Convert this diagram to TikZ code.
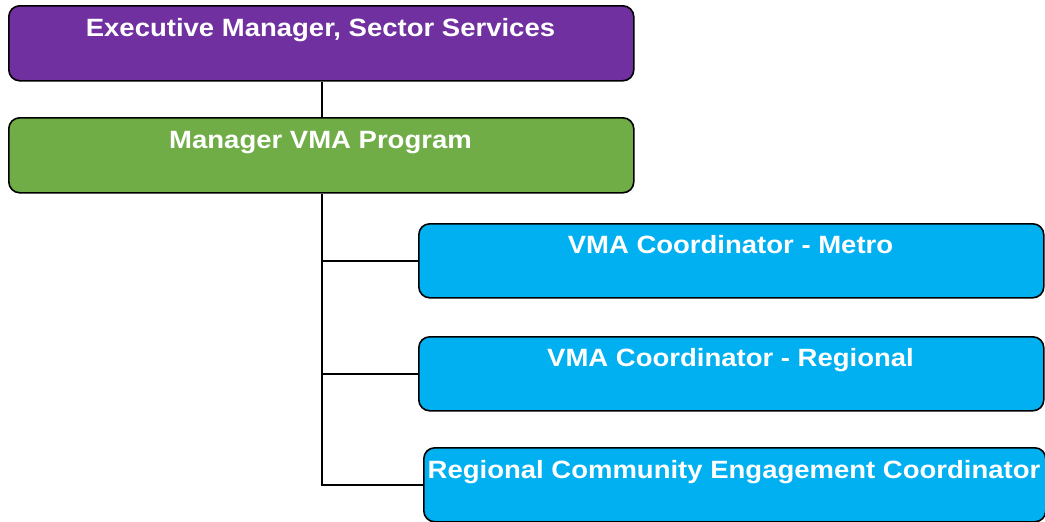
\documentclass[tikz,border=0pt]{standalone}
\usepackage{fontspec}
\setmainfont{Liberation Sans}
\newfontfamily\boxfont[FakeStretch=1.1]{Liberation Sans}
\usetikzlibrary{positioning}
\definecolor{execpurple}{HTML}{7030A0}
\definecolor{mgrgreen}{HTML}{70AD47}
\definecolor{coordblue}{HTML}{00B0F0}
\begin{document}
\begin{tikzpicture}[x=1pt,y=-1pt,
  orgbox/.style={draw=black, line width=1.6pt, rounded corners=11pt, inner sep=0pt, anchor=north west},
  orgtext/.style={text=white, font=\boxfont\bfseries\fontsize{25}{29}\selectfont, anchor=base, inner sep=0pt},
  link/.style={draw=black, line width=2pt}]
\useasboundingbox (0,0) rectangle (1045,522);
% boxes
\node[orgbox, fill=execpurple, minimum width=625pt, minimum height=75pt] (exec) at (8,5) {};
\node[orgbox, fill=mgrgreen, minimum width=625pt, minimum height=75pt] (mgr) at (8,117) {};
\node[orgbox, fill=coordblue, minimum width=625pt, minimum height=74pt] (metro) at (418,223) {};
\node[orgbox, fill=coordblue, minimum width=625pt, minimum height=74pt] (regional) at (418,336) {};
\node[orgbox, fill=coordblue, minimum width=622pt, minimum height=74pt] (rce) at (423,447) {};
% titles
\node[orgtext] (execT) at (320.5,36) {Executive Manager, Sector Services};
\node[orgtext] (mgrT) at (320.5,148) {Manager VMA Program};
\node[orgtext] (metroT) at (730.5,253) {VMA Coordinator - Metro};
\node[orgtext] (regionalT) at (730.5,366) {VMA Coordinator - Regional};
\node[orgtext] (rceT) at (734,478) {Regional Community Engagement Coordinator};
% connectors
\coordinate (trunk) at (321.5,0);
\draw[link] (exec.south -| trunk) -- (mgr.north -| trunk);
\draw[link] (mgr.south -| trunk) |- (metro.west);
\draw[link] (mgr.south -| trunk) |- (regional.west);
\draw[link] (mgr.south -| trunk) |- (rce.west);
\end{tikzpicture}
\end{document}
